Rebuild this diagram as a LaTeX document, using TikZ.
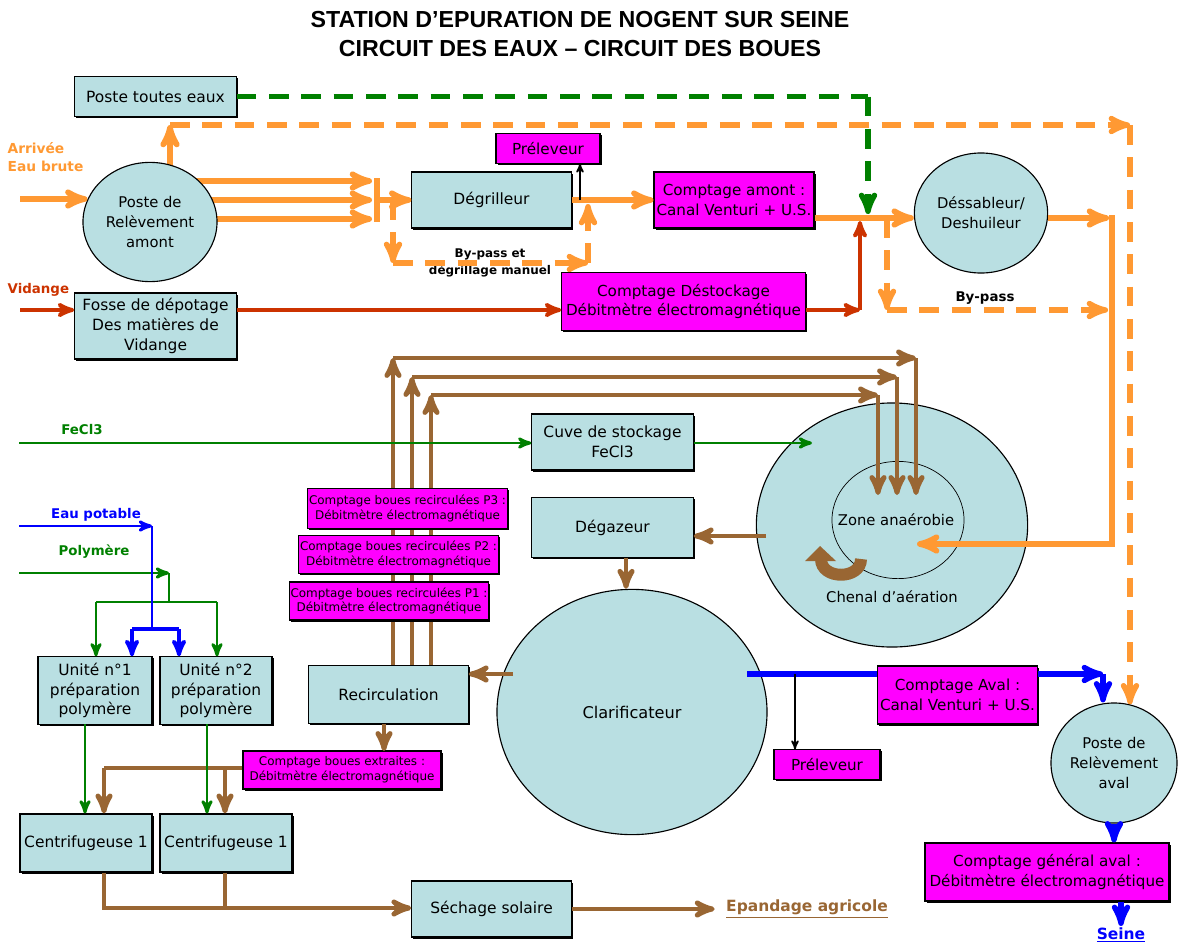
\documentclass[tikz,border=0pt]{standalone}
\usepackage{fontspec}
\setmainfont{DejaVu Sans}
\newfontfamily\titrefont{Liberation Sans}
\usepackage{tikz}
\usetikzlibrary{shapes,positioning,arrows,calc,shadows}
\pgfdeclarelayer{background}
\pgfsetlayers{background,main}
\definecolor{bleuouvr}{RGB}{185,223,226}
\definecolor{eaubrute}{RGB}{255,153,51}
\definecolor{vertreactif}{RGB}{0,128,0}
\definecolor{rougevid}{RGB}{204,51,0}
\definecolor{bleueau}{RGB}{0,0,255}
\definecolor{brunboue}{RGB}{153,102,51}
\definecolor{rosecpt}{RGB}{255,0,255}
\tikzset{->,>=stealth'}
\tikzset{
  ouvr/.style={draw,fill=bleuouvr,line width=0.8pt,align=center,inner sep=1pt,
    font=\fontsize{11}{14}\selectfont,
    drop shadow={shadow xshift=1.1pt,shadow yshift=-1.1pt,fill=black,opacity=1}},
  cpt/.style={ouvr,fill=rosecpt,font=\fontsize{10.8}{14}\selectfont},
  petitcpt/.style={cpt,font=\fontsize{8.5}{10.5}\selectfont},
  bassin/.style={draw,ellipse,fill=bleuouvr,line width=0.8pt,inner sep=0pt,align=center,
    font=\fontsize{10.5}{14}\selectfont},
  texte/.style={inner sep=1pt,align=center,font=\fontsize{10.5}{14}\selectfont},
  legende/.style={inner sep=1pt,align=center,font=\fontsize{9.5}{13}\selectfont\bfseries},
  titre/.style={align=center,font=\titrefont\fontsize{16.5}{20}\selectfont\bfseries},
  eau/.style={eaubrute,line width=4pt},
  eaupoint/.style={eaubrute,line width=3.8pt,dash pattern=on 14pt off 9pt},
  vertpoint/.style={vertreactif,line width=3.8pt,dash pattern=on 14pt off 9pt},
  vidange/.style={rougevid,line width=2.8pt},
  reactif/.style={vertreactif,line width=2.1pt},
  potable/.style={bleueau,line width=2.1pt},
  traitee/.style={bleueau,line width=3.8pt},
  boues/.style={brunboue,line width=3.5pt},
  prelev/.style={black,line width=1.2pt}
}
\newcommand{\ouvrage}{\node[ouvr]}
\newcommand{\mesure}{\node[cpt]}
\newcommand{\bassin}{\node[bassin]}

\begin{document}
\begin{tikzpicture}[x=0.025cm,y=-0.025cm]
	\useasboundingbox (0,0) rectangle (1178,947);
	
	\node[titre] (titre) at (580,34) {STATION D’EPURATION DE NOGENT SUR SEINE\\CIRCUIT DES EAUX – CIRCUIT DES BOUES};
	
	% file eau
	\ouvrage[minimum width=4.03cm,minimum height=0.98cm] (pte) at (155.5,96.5) {Poste toutes eaux};
	\bassin[minimum width=3.35cm,minimum height=2.98cm] (amont) at (150,222) {Poste de\\Relèvement\\amont};
	\ouvrage[minimum width=4.03cm,minimum height=1.65cm] (fosse) at (155.5,326) {Fosse de dépotage\\Des matières de\\Vidange};
	\ouvrage[minimum width=3.98cm,minimum height=1.4cm] (degr) at (491.5,200) {Dégrilleur};
	\mesure[minimum width=2.6cm,minimum height=0.73cm] (prel1) at (548,148.5) {Préleveur};
	\mesure[minimum width=4cm,minimum height=1.4cm] (cptamont) at (734,200) {Comptage amont :\\Canal Venturi + U.S.};
	\mesure[minimum width=6.08cm,minimum height=1.43cm] (destock) at (683.5,301.5) {Comptage Déstockage\\Débitmètre électromagnétique};
	\bassin[minimum width=3.33cm,minimum height=3cm] (dess) at (981,213) {Déssableur/\\Deshuileur};
	\ouvrage[minimum width=4.03cm,minimum height=1.4cm] (cuve) at (612.5,442) {Cuve de stockage\\FeCl3};
	\bassin[minimum width=6.78cm,minimum height=6.1cm] (chenal) at (892,525) {};
	\bassin[line width=0.5pt,minimum width=3.3cm,minimum height=2.93cm] (zone) at (898,520) {};
	\node[texte] (zonetxt) at (896,520) {Zone anaérobie};
	\node[texte] (chenaltxt) at (892,597) {Chenal d'aération};
	\ouvrage[minimum width=4.03cm,minimum height=1.48cm] (degaz) at (612.5,527.5) {Dégazeur};
	\bassin[minimum width=6.75cm,minimum height=6.13cm,font=\fontsize{11.5}{14}\selectfont] (clarif) at (632,712) {Clarificateur};
	\mesure[minimum width=2.65cm,minimum height=0.73cm] (prel2) at (827,764.5) {Préleveur};
	\mesure[minimum width=3.98cm,minimum height=1.45cm] (cptaval) at (957.5,695) {Comptage Aval :\\Canal Venturi + U.S.};
	\bassin[minimum width=3.15cm,minimum height=3cm] (aval) at (1114,763) {Poste de\\Relèvement\\aval};
	\mesure[minimum width=6.1cm,minimum height=1.45cm] (cptgen) at (1047,872) {Comptage général aval :\\Débitmètre électromagnétique};
	
	% file boues
	\node[petitcpt,minimum width=4.93cm,minimum height=0.98cm] (cptp3) at (407.5,508.5) {Comptage boues recirculées P3 :\\Débitmètre électromagnétique};
	\node[petitcpt,minimum width=4.98cm,minimum height=0.93cm] (cptp2) at (398.5,554.5) {Comptage boues recirculées P2 :\\Débitmètre électromagnétique};
	\node[petitcpt,minimum width=4.95cm,minimum height=0.95cm] (cptp1) at (389,601) {Comptage boues recirculées P1 :\\Débitmètre électromagnétique};
	\ouvrage[minimum width=3.98cm,minimum height=1.43cm] (recirc) at (388.5,694.5) {Recirculation};
	\node[petitcpt,minimum width=4.95cm,minimum height=0.95cm] (extr) at (342,770) {Comptage boues extraites :\\Débitmètre électromagnétique};
	\ouvrage[minimum width=2.85cm,minimum height=1.68cm] (unite1) at (95,690.5) {Unité n°1\\préparation\\polymère};
	\ouvrage[minimum width=2.8cm,minimum height=1.68cm] (unite2) at (216,690.5) {Unité n°2\\préparation\\polymère};
	\ouvrage[minimum width=3.3cm,minimum height=1.45cm] (centri1) at (86,843) {Centrifugeuse 1};
	\ouvrage[minimum width=3.3cm,minimum height=1.45cm] (centri2) at (226,843) {Centrifugeuse 1};
	\ouvrage[minimum width=3.98cm,minimum height=1.4cm] (sechage) at (491.5,909) {Séchage solaire};
	
	% legendes
	\node[legende,text=eaubrute,anchor=north west,align=left,font=\fontsize{9.8}{13}\selectfont\bfseries] (arrivee) at (6,141) {Arrivée\\Eau brute};
	\node[legende,text=rougevid,anchor=west] (vidange) at (6,290) {Vidange};
	\node[legende,text=vertreactif] (fecl) at (82,430) {FeCl3};
	\node[legende,text=bleueau] (potable) at (96,515) {Eau potable};
	\node[legende,text=vertreactif] (polym) at (94,552) {Polymère};
	\node[legende,font=\fontsize{8.5}{12}\selectfont\bfseries] (bypass1) at (490,263) {By-pass et\\dégrillage manuel};
	\node[legende] (bypass2) at (985,298) {By-pass};
	\node[legende,text=brunboue,inner xsep=8pt,font=\fontsize{11}{13}\selectfont\bfseries] (epand) at (807,909) {\underline{Epandage agricole}};
	\node[legende,text=bleueau,font=\fontsize{11}{13}\selectfont\bfseries] (seine) at (1121,935) {\underline{Seine}};
	
	% points de passage
	\coordinate (arr) at (20,199);
	\coordinate (l1) at (372,181);
	\coordinate (l2) at (372,200);
	\coordinate (l3) at (372,219);
	\coordinate (bh) at (377,178);
	\coordinate (bb) at (377,222);
	\coordinate (barre) at (377,200);
	\coordinate (h1) at (170,125);
	\coordinate (h2) at (1130,125);
	\coordinate (g1) at (868,96.5);
	\coordinate (g2) at (868,214);
	\coordinate (bp1) at (393,200);
	\coordinate (bp2) at (393,263);
	\coordinate (bp3) at (588,263);
	\coordinate (bp4) at (588,204);
	\coordinate (pr1) at (580,200);
	\coordinate (m1) at (887,218);
	\coordinate (bp6) at (887,310);
	\coordinate (bp7) at (1108,310);
	\coordinate (v0) at (1109,218);
	\coordinate (v1) at (1112,215);
	\coordinate (v2) at (1112,544);
	\coordinate (z1) at (917,544);
	\coordinate (arrv) at (20,310);
	\coordinate (r1) at (860,310);
	\coordinate (r2) at (860,221);
	\coordinate (f0) at (19,443);
	\coordinate (f1) at (812,443);
	\coordinate (ra1) at (393,358);
	\coordinate (rb1) at (916,358);
	\coordinate (rc1) at (916,495);
	\coordinate (ra2) at (412,377);
	\coordinate (rb2) at (897,377);
	\coordinate (rc2) at (897,495);
	\coordinate (ra3) at (431,395);
	\coordinate (rb3) at (878,395);
	\coordinate (rc3) at (878,495);
	\coordinate (ch1) at (766,536);
	\coordinate (dg1) at (626,557);
	\coordinate (c2) at (513,674);
	\coordinate (c1) at (747,674);
	\coordinate (prl2) at (795,674);
	\coordinate (t1) at (1103,674);
	\coordinate (e0) at (384,751);
	\coordinate (e1) at (104,768);
	\coordinate (e2) at (225,768);
	\coordinate (u1) at (85,724);
	\coordinate (u2) at (207,724);
	\coordinate (s1) at (104,908);
	\coordinate (s2) at (225,908);
	\coordinate (ep0) at (19,526);
	\coordinate (ep1) at (152,526);
	\coordinate (ep2) at (152,629);
	\coordinate (ep3) at (132,629);
	\coordinate (ep4) at (179,629);
	\coordinate (po0) at (19,573);
	\coordinate (po1) at (169,573);
	\coordinate (po2) at (169,602);
	\coordinate (po3) at (96,602);
	\coordinate (po4) at (217,602);
	
	\begin{pgfonlayer}{background}
	\draw[eau] (amont.center |- l1) -- (l1);
	\draw[eau] (amont.center |- l2) -- (l2);
	\draw[eau] (amont.center |- l3) -- (l3);
	\draw[eau] (h1 |- amont.center) -- (h1);
	\draw[boues] (ra1 |- recirc.center) -- (ra1);
	\draw[boues] (ra2 |- recirc.center) -- (ra2);
	\draw[boues] (ra3 |- recirc.center) -- (ra3);
	\end{pgfonlayer}
	
	% eau brute
	\draw[eau] (arr) -- (arr -| amont.160);
	\draw[eau,-] (bh) -- (bb);
	\draw[eau] (barre) -- (degr.west);
	\draw[eaupoint] (bp1) -- (bp2);
	\draw[eaupoint] (bp2) -- (bp3);
	\draw[eaupoint] (bp3) -- (bp4);
	\draw[eau] (degr.east) -- (cptamont.west);
	\draw[prelev] (pr1) -- (pr1 |- prel1.south);
	\draw[eau] (cptamont.east |- m1) -- (m1 -| dess.west);
	\draw[eaupoint] (m1) -- (bp6);
	\draw[eaupoint] (bp6) -- (bp7);
	\draw[eaupoint] (h1) -- (h2);
	\draw[eaupoint] (h2) -- (h2 |- aval.75);
	\draw[vertpoint,-] (pte.east) -- (g1);
	\draw[vertpoint] (g1) -- (g2);
	\draw[eau] (v0 -| dess.east) -- (v0);
	\draw[eau] (v1) -- (v2) -- (z1);
	
	% vidange
	\draw[vidange] (arrv) -- (arrv -| fosse.west);
	\draw[vidange] (arrv -| fosse.east) -- (arrv -| destock.west);
	\draw[vidange] (arrv -| destock.east) -- (r1);
	\draw[vidange] (r1) -- (r2);
	
	% reactifs
	\draw[reactif] (f0) -- (f0 -| cuve.west);
	\draw[reactif] (cuve.east |- f1) -- (f1);
	
	% recirculation
	\draw[boues] (ra1) -- (rb1);
	\draw[boues] (rb1) -- (rc1);
	\draw[boues] (ra2) -- (rb2);
	\draw[boues] (rb2) -- (rc2);
	\draw[boues] (ra3) -- (rb3);
	\draw[boues] (rb3) -- (rc3);
	% brassage du chenal
	\draw[boues,-,line width=8.5pt] (861,559) .. controls (861,580) and (821,580) .. (821,559);
	\fill[brunboue] (805,561) -- (820,546) -- (836,561) -- cycle;
	\draw[boues] (ch1) -- (ch1 -| degaz.east);
	\draw[boues] (degaz.south -| dg1) -- (dg1 |- clarif.north);
	\draw[boues] (c2) -- (c2 -| recirc.east);
	\draw[boues] (e0 |- recirc.south) -- (e0);
	\draw[boues,-] (extr.west |- e1) -- (e1);
	\draw[boues] (e1) -- (e1 |- centri1.north);
	\draw[boues] (e2) -- (e2 |- centri2.north);
	\draw[boues] (s1 |- centri1.south) -- (s1) -- (sechage.west |- s1);
	\draw[boues,-] (s2 |- centri2.south) -- (s2);
	\draw[boues] (sechage.east) -- (epand.west);
	
	% polymere
	\draw[reactif] (po0) -- (po1);
	\draw[reactif,-] (po1) -- (po2);
	\draw[reactif,-] (po3) -- (po4);
	\draw[reactif] (po3) -- (po3 |- unite1.north);
	\draw[reactif] (po4) -- (po4 |- unite2.north);
	\draw[potable] (ep0) -- (ep1);
	\draw[potable,-] (ep1) -- (ep2);
	\draw[potable,-,line width=2.8pt] (ep3) -- (ep4);
	\draw[potable,line width=2.8pt] (ep3) -- (ep3 |- unite1.north);
	\draw[potable,line width=2.8pt] (ep4) -- (ep4 |- unite2.north);
	\draw[reactif] (u1) -- (u1 |- centri1.north);
	\draw[reactif] (u2) -- (u2 |- centri2.north);
	
	% eau traitee
	\draw[traitee,-] (c1) -- (c1 -| cptaval.west);
	\draw[traitee] (cptaval.east |- c1) -- (t1);
	\draw[traitee] (t1) -- (t1 |- aval.north);
	\draw[prelev] (prl2) -- (prl2 |- prel2.north);
	\draw[traitee] (aval.south) -- (aval.south |- cptgen.north);
	\draw[traitee] (seine.north |- cptgen.south) -- (seine.north);
	
\end{tikzpicture}
\end{document}
